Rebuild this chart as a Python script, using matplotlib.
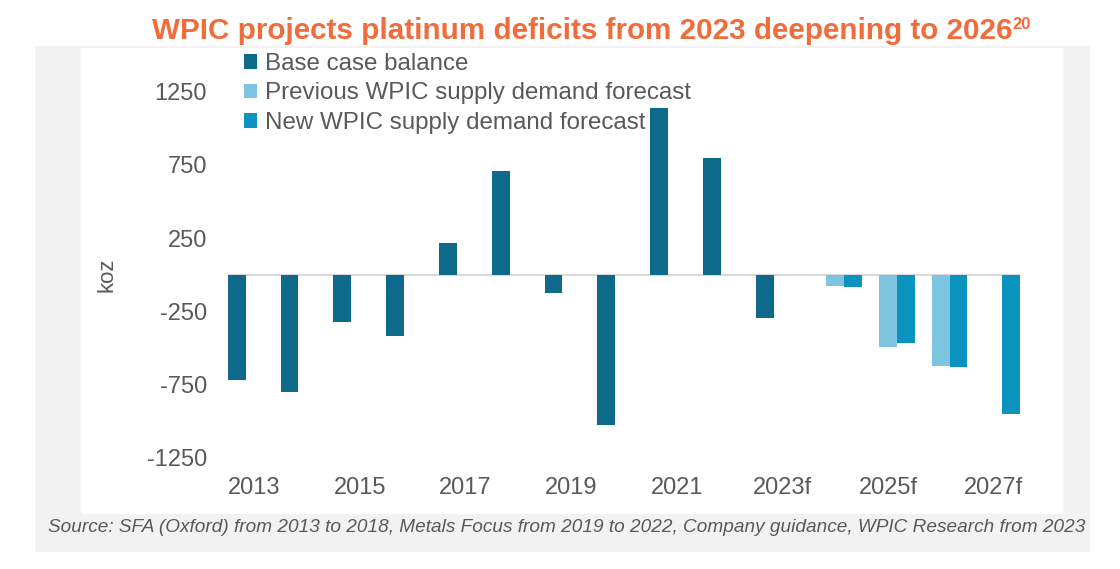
import numpy as np
import matplotlib
matplotlib.use("Agg")
import matplotlib.pyplot as plt
from matplotlib.patches import Rectangle, Patch

plt.rcParams['font.family'] = ['Liberation Sans', 'DejaVu Sans']

categories = ['2013', '2014', '2015', '2016', '2017', '2018', '2019', '2020',
              '2021', '2022', '2023f', '2024f', '2025f', '2026f', '2027f']
base_case = [-720, -800, -322, -418, 220, 708, -121, -1027, 1141, 800, -292,
             np.nan, np.nan, np.nan, np.nan]
previous_forecast = [np.nan] * 11 + [-75, -495, -620, np.nan]
new_forecast = [np.nan] * 11 + [-80, -462, -632, -952]
series_names = ['Base case balance', 'Previous WPIC supply demand forecast',
                'New WPIC supply demand forecast']
y_ticks = [1250, 750, 250, -250, -750, -1250]

c_base = '#0E6A8B'
c_prev = '#7DC4E1'
c_new = '#0A93BE'
txt_gray = '#595959'
c_title = '#F26B3A'

fig = plt.figure(figsize=(11.2, 5.69), dpi=100)
fig.patch.set_facecolor('white')

# grey panel and white plot area
fig.add_artist(Rectangle((35/1120, 1-552/569), (1090-35)/1120, (552-46)/569,
                         transform=fig.transFigure, facecolor='#F2F2F2',
                         edgecolor='none', zorder=0))
fig.add_artist(Rectangle((81/1120, 1-514/569), (1063-81)/1120, (514-48)/569,
                         transform=fig.transFigure, facecolor='white',
                         edgecolor='none', zorder=0))

ax = fig.add_axes([228/1120, 1-458/569, (1020-228)/1120, (458-91.7)/569])
ax.set_facecolor('none')
x = np.arange(len(categories))
w = 0.335
ax.bar(x - w, base_case, w, color=c_base, zorder=3)
ax.bar(x, previous_forecast, w, color=c_prev, zorder=3)
ax.bar(x + w, new_forecast, w, color=c_new, zorder=3)
ax.axhline(0, color='#D9D9D9', lw=1.5, zorder=2)

ax.set_xlim(-0.5, len(categories) - 0.5)
ax.set_ylim(-1250, 1250)
ax.set_yticks(y_ticks)
ax.set_yticklabels([str(v) for v in y_ticks])
ax.set_xticks(x[::2])
ax.set_xticklabels(categories[::2])
ax.tick_params(axis='both', length=0, labelsize=17, colors=txt_gray)
ax.tick_params(axis='y', pad=15)
ax.tick_params(axis='x', pad=14)
for s in ax.spines.values():
    s.set_visible(False)
ax.set_ylabel('koz', fontsize=16, color=txt_gray, labelpad=21)

handles = [Patch(facecolor=c_base), Patch(facecolor=c_prev), Patch(facecolor=c_new)]
leg = fig.legend(handles, series_names, loc='upper left',
                 bbox_to_anchor=(244/1120, 1-53/569), frameon=False,
                 fontsize=17.4, handlelength=0.55, handleheight=0.55,
                 handletextpad=0.3, labelspacing=0.31, borderpad=0,
                 borderaxespad=0)
for t in leg.get_texts():
    t.set_color(txt_gray)

title = fig.text(152/1120, 1-31/569,
                 'WPIC projects platinum deficits from 2023 deepening to 2026',
                 ha='left', va='center', fontsize=21.3, fontweight='bold',
                 color=c_title)
ax.annotate('20', xy=(1, 1), xycoords=title, xytext=(0, 0),
            textcoords='offset points', ha='left', va='top',
            fontsize=12, fontweight='bold', color=c_title,
            annotation_clip=False)

fig.text(567/1120, 1-528/569,
         'Source: SFA (Oxford) from 2013 to 2018, Metals Focus from 2019 to 2022, '
         'Company guidance, WPIC Research from 2023',
         ha='center', va='center', fontsize=13.7, style='italic', color=txt_gray)

fig.savefig('out.png', dpi=100)
